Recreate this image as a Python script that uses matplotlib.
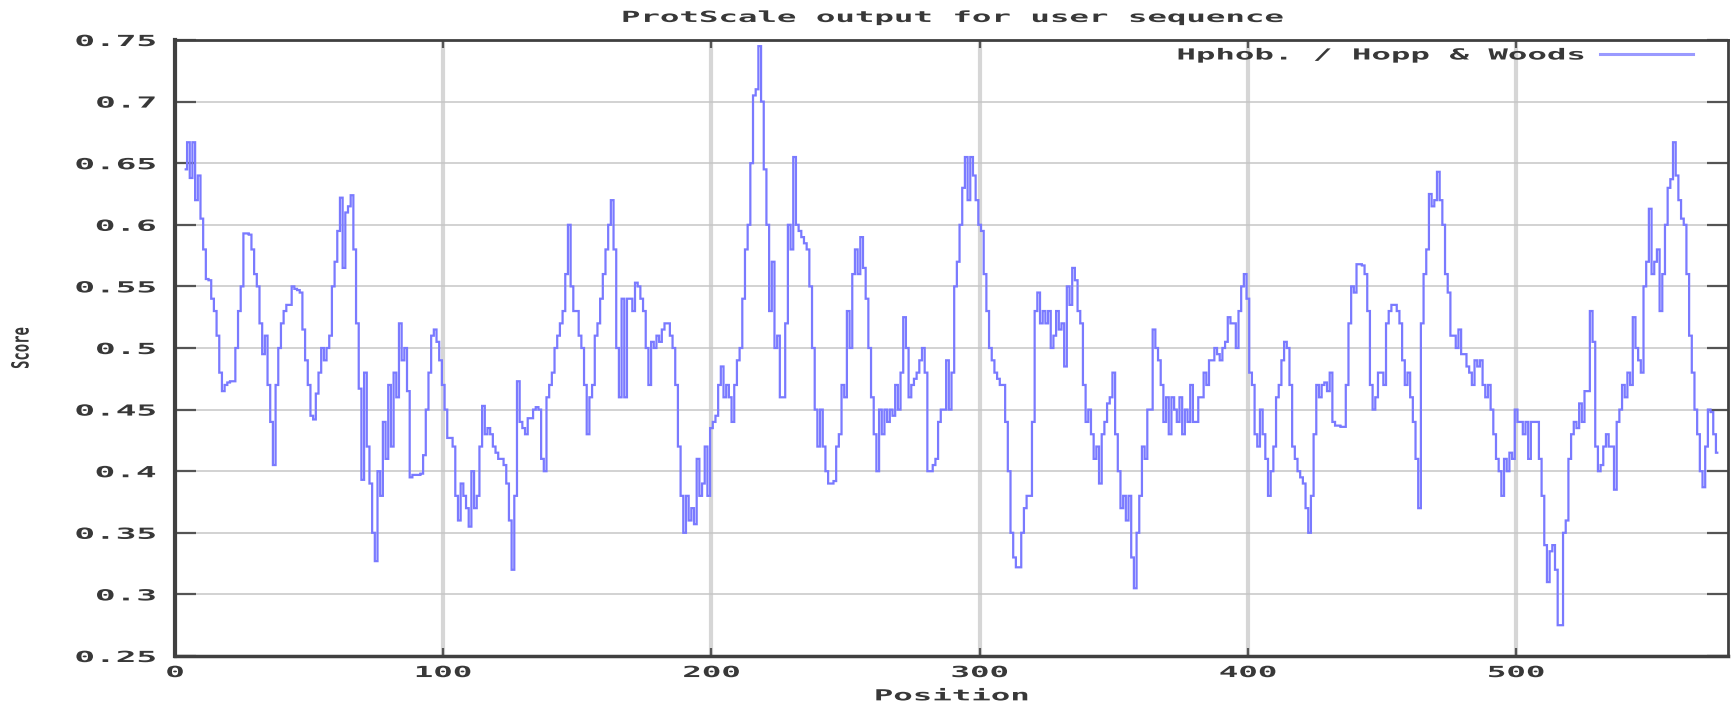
import matplotlib
matplotlib.use("Agg")
import numpy as np
import matplotlib.pyplot as plt
from matplotlib.patheffects import AbstractPathEffect
from matplotlib.transforms import Affine2D

# ---------------- data ----------------
title = "ProtScale output for user sequence"
series_name = "Hphob. / Hopp & Woods"
x_label = "Position"
y_label = "Score"
first_position = 4
scores = [
    .645, .667, .638, .667, .62, .64,
    .605, .58, .556, .555, .54, .53, .51, .48, .465, .47,
    .472, .473, .473, .50, .53, .55, .593, .593, .592, .58,
    .56, .55, .52, .495, .51, .47, .44, .405, .47, .50,
    .52, .53, .535, .535, .55, .548, .547, .545, .515, .49,
    .47, .445, .442, .463, .48, .50, .49, .50, .51, .55,
    .57, .595, .622, .565, .61, .615, .624, .58, .52, .467,
    .393, .48, .42, .39, .35, .327, .40, .38, .44, .41,
    .47, .42, .48, .46, .52, .49, .50, .465, .395, .397,
    .397, .397, .398, .413, .45, .48, .51, .515, .505, .49,
    .47, .45, .427, .427, .42, .38, .36, .39, .38, .37,
    .355, .40, .37, .38, .42, .453, .43, .435, .43, .42,
    .415, .41, .41, .405, .39, .36, .32, .38, .473, .44,
    .435, .43, .443, .443, .45, .452, .45, .41, .40, .46,
    .47, .48, .50, .51, .52, .53, .56, .60, .55, .53,
    .53, .51, .50, .47, .43, .46, .47, .51, .52, .54,
    .56, .58, .60, .62, .58, .50, .46, .54, .46, .54,
    .54, .53, .553, .55, .54, .53, .50, .47, .505, .50,
    .51, .505, .515, .52, .52, .51, .50, .47, .42, .38,
    .35, .38, .36, .37, .357, .41, .38, .39, .42, .38,
    .435, .44, .445, .47, .485, .46, .47, .46, .44, .47,
    .49, .50, .54, .58, .60, .65, .705, .71, .745, .70,
    .645, .60, .53, .57, .50, .51, .46, .46, .52, .60,
    .58, .655, .60, .595, .59, .585, .58, .55, .50, .45,
    .42, .45, .42, .40, .39, .39, .392, .42, .43, .47,
    .46, .53, .50, .56, .58, .56, .59, .565, .54, .50,
    .46, .43, .40, .45, .43, .45, .44, .45, .445, .47,
    .45, .48, .525, .50, .46, .47, .475, .48, .49, .50,
    .48, .40, .40, .405, .41, .44, .45, .45, .49, .45,
    .48, .55, .57, .60, .63, .655, .62, .655, .64, .62,
    .60, .595, .56, .53, .50, .49, .48, .475, .47, .47,
    .44, .40, .35, .33, .322, .322, .35, .37, .38, .38,
    .44, .53, .545, .52, .53, .52, .53, .50, .51, .53,
    .515, .52, .485, .55, .535, .565, .555, .53, .52, .47,
    .44, .45, .43, .41, .42, .39, .43, .44, .455, .46,
    .48, .43, .40, .37, .38, .36, .38, .33, .305, .35,
    .38, .42, .41, .45, .45, .515, .50, .49, .47, .44,
    .46, .43, .46, .45, .44, .46, .43, .45, .44, .47,
    .44, .44, .46, .46, .48, .47, .49, .49, .50, .495,
    .49, .50, .505, .525, .52, .52, .50, .53, .55, .56,
    .54, .48, .47, .43, .42, .45, .43, .41, .38, .40,
    .42, .46, .47, .49, .505, .50, .47, .42, .41, .40,
    .395, .39, .37, .35, .38, .43, .47, .46, .47, .472,
    .465, .48, .44, .437, .437, .436, .436, .47, .52, .55,
    .545, .568, .568, .567, .56, .53, .47, .45, .46, .48,
    .48, .47, .52, .53, .535, .535, .53, .52, .49, .47,
    .48, .46, .44, .41, .37, .52, .56, .58, .625, .615,
    .62, .643, .62, .60, .56, .545, .51, .51, .50, .515,
    .495, .495, .485, .48, .47, .49, .485, .49, .47, .46,
    .47, .45, .43, .41, .40, .38, .41, .40, .415, .41,
    .45, .44, .44, .43, .44, .41, .44, .44, .44, .41,
    .38, .34, .31, .335, .34, .32, .275, .275, .35, .36,
    .41, .43, .44, .435, .455, .44, .465, .465, .53, .505,
    .42, .40, .405, .42, .43, .42, .42, .385, .44, .45,
    .47, .46, .48, .47, .525, .50, .49, .48, .55, .57,
    .613, .56, .57, .58, .53, .56, .60, .63, .637, .667,
    .64, .62, .605, .60, .56, .51, .48, .45, .43, .40,
    .387, .42, .45, .448, .43, .415,
]
x_ticks = [0, 100, 200, 300, 400, 500]
x_tick_labels = ["0", "100", "200", "300", "400", "500"]
y_ticks = [0.25, 0.3, 0.35, 0.4, 0.45, 0.5, 0.55, 0.6, 0.65, 0.7, 0.75]
y_tick_labels = ["0.25", "0.3", "0.35", "0.4", "0.45", "0.5",
                 "0.55", "0.6", "0.65", "0.7", "0.75"]
x_max = 579


# --------- horizontal stretch effect (imitates the wide bitmap font) ---------
class HStretch(AbstractPathEffect):
    def __init__(self, sx=2.0, pivot="center"):
        super().__init__()
        self.sx = sx
        self.pivot = pivot

    def draw_path(self, renderer, gc, tpath, affine, rgbFace=None):
        ext = tpath.get_extents(affine)
        if self.pivot == "left":
            cx = ext.x0
        elif self.pivot == "right":
            cx = ext.x1
        else:
            cx = 0.5 * (ext.x0 + ext.x1)
        new = affine + Affine2D().translate(-cx, 0).scale(self.sx, 1).translate(cx, 0)
        renderer.draw_path(gc, tpath, new, rgbFace)


FONT = "DejaVu Sans Mono"
FS = 11.0
FW = "bold"
TXT = "#383838"
SX = 2.12

W, H = 1735, 705
fig = plt.figure(figsize=(W / 100, H / 100), dpi=100)
L, R, T, B = 175, 1728, 40, 656
ax = fig.add_axes([L / W, 1 - B / H, (R - L) / W, (B - T) / H])

positions = np.arange(first_position, first_position + len(scores))
ax.plot(positions, scores, color="#7a7aff", lw=1.6, drawstyle="steps-mid",
        label=series_name, zorder=3, solid_joinstyle="miter")

ax.set_xlim(0, x_max)
ax.set_ylim(0.25, 0.75)
ax.set_xticks(x_ticks)
ax.set_xticklabels(x_tick_labels, fontfamily=FONT, fontsize=FS, color=TXT,
                   fontweight=FW)
ax.set_yticks(y_ticks)
ax.set_yticklabels(y_tick_labels, fontfamily=FONT, fontsize=FS, color=TXT,
                   fontweight=FW)

# grid
ax.set_axisbelow(True)
ax.xaxis.grid(True, color="#d6d6d6", lw=3.0)
ax.yaxis.grid(True, color="#c6c6c6", lw=1.1)

# ticks
ax.tick_params(axis="y", direction="in", length=15, width=1.6, color="#555555",
               left=True, right=True, pad=14)
ax.tick_params(axis="x", direction="in", length=6, width=1.6, color="#555555",
               bottom=True, top=True, pad=6.5)

for side, lw in (("left", 3.0), ("bottom", 2.5), ("top", 2.0), ("right", 2.0)):
    ax.spines[side].set_linewidth(lw)
    ax.spines[side].set_color("#404040")

for lab in ax.get_yticklabels():
    lab.set_path_effects([HStretch(2.25, "right")])
for lab in ax.get_xticklabels():
    lab.set_path_effects([HStretch(SX, "center")])

t = ax.set_title(title, fontfamily=FONT, fontsize=FS, color=TXT, fontweight=FW,
                 pad=13)
t.set_path_effects([HStretch(SX, "center")])

xl = ax.set_xlabel(x_label, fontfamily=FONT, fontsize=FS, color=TXT,
                   fontweight=FW, labelpad=6)
xl.set_path_effects([HStretch(SX, "center")])
yl = ax.set_ylabel(y_label, fontfamily=FONT, fontsize=10, color=TXT,
                   fontweight=FW)
yl.set_path_effects([HStretch(1.7, "center")])
ax.yaxis.set_label_coords((28 - L) / (R - L), 0.5)

leg = ax.legend(loc="center right", bbox_to_anchor=((1693 - L) / (R - L), (B - 55) / (B - T)),
                frameon=False, markerfirst=False, handlelength=6.1, handletextpad=1.1,
                borderaxespad=0, borderpad=0,
                prop={"family": FONT, "size": FS, "weight": FW})
for txt in leg.get_texts():
    txt.set_color(TXT)
    txt.set_path_effects([HStretch(SX, "right")])
for h in leg.get_lines():
    h.set_color("#9a9aff")
    h.set_linewidth(2.2)

fig.savefig("out.png", dpi=100)
